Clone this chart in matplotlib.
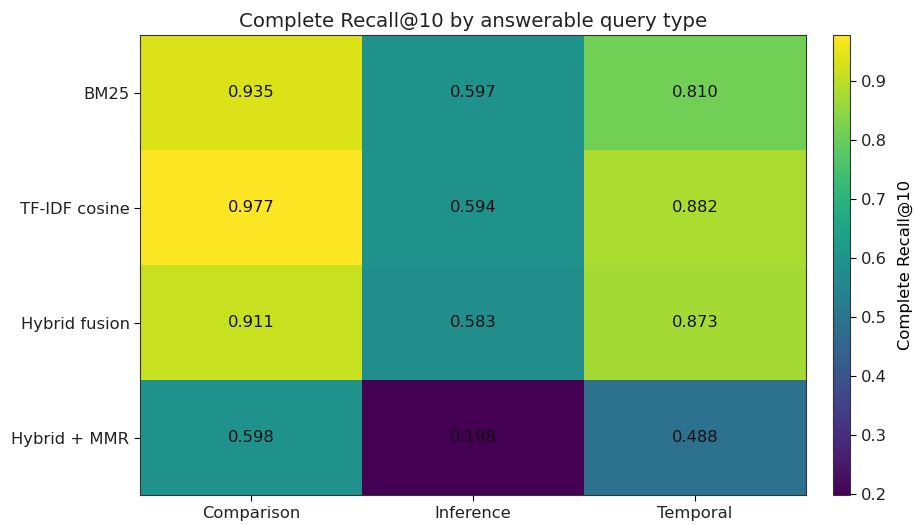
import matplotlib
matplotlib.use("Agg")
import matplotlib.pyplot as plt
import numpy as np

# retrievers (rows) and query types (columns)
methods = ["BM25", "TF-IDF cosine", "Hybrid fusion", "Hybrid + MMR"]
query_types = ["Comparison", "Inference", "Temporal"]

comparison = [0.935, 0.977, 0.911, 0.598]
inference = [0.597, 0.594, 0.583, 0.198]
temporal = [0.810, 0.882, 0.873, 0.488]

scores = np.column_stack([comparison, inference, temporal])

plt.rcParams["font.size"] = 11.8
plt.rcParams["text.color"] = "#222222"
plt.rcParams["xtick.labelcolor"] = "#222222"
plt.rcParams["ytick.labelcolor"] = "#222222"
plt.rcParams["xtick.major.size"] = 4.1
plt.rcParams["ytick.major.size"] = 4.1
plt.rcParams["axes.edgecolor"] = "#333333"

fig = plt.figure(figsize=(9.16, 5.25), dpi=100)
ax = fig.add_axes([0.153, 0.057, 0.727, 0.876])
cax = fig.add_axes([0.909, 0.057, 0.019, 0.876])

im = ax.imshow(scores, cmap="viridis", aspect="auto",
               vmin=scores.min(), vmax=scores.max())

ax.set_xticks(range(len(query_types)))
ax.set_xticklabels(query_types)
ax.set_yticks(range(len(methods)))
ax.set_yticklabels(methods)
ax.set_title("Complete Recall@10 by answerable query type", fontsize=14.2)

for i in range(scores.shape[0]):
    for j in range(scores.shape[1]):
        ax.text(j, i, f"{scores[i, j]:.3f}", ha="center", va="center",
                color="#111111", fontsize=11.8)

cbar = fig.colorbar(im, cax=cax)
cbar.set_label("Complete Recall@10", labelpad=8)

fig.savefig("out.png", dpi=100)
